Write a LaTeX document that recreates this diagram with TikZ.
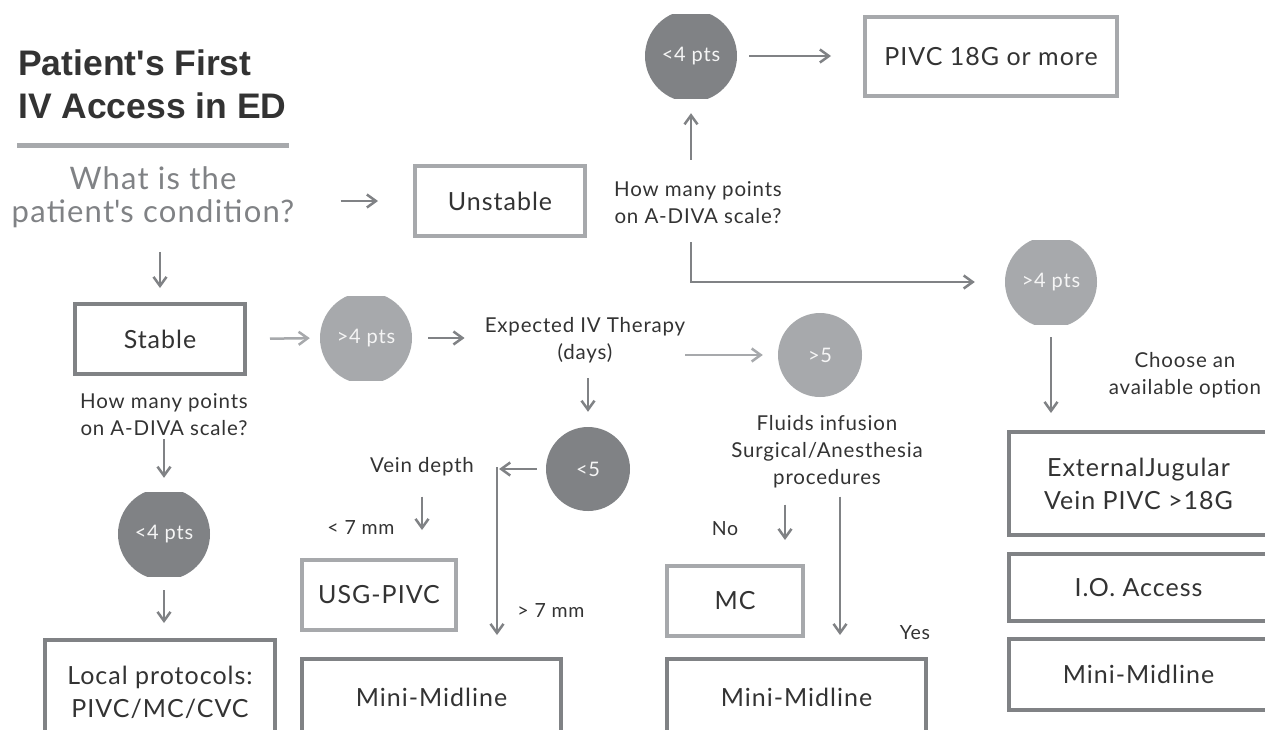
\documentclass[tikz,border=0pt]{standalone}
\usepackage{fontspec}
\setmainfont{Lato}[LetterSpace=4]
\newfontfamily\titlefont{Liberation Sans}
\usetikzlibrary{arrows.meta}
\definecolor{darkGray}{HTML}{808285}
\definecolor{lightGray}{HTML}{A7A9AC}
\definecolor{textGray}{HTML}{333333}

\begin{document}
\begin{tikzpicture}[x = 1pt, y = -1pt]
	\tikzstyle{titleStyle} = [align = left, text = textGray, inner sep = 0pt, font = \titlefont\bfseries\fontsize{35.5}{43}\selectfont]
	\tikzstyle{questionStyle} = [align = center, text = darkGray, inner sep = 0pt, font = \fontsize{31}{33}\selectfont]
	\tikzstyle{plainStyle} = [align = center, text = textGray, inner sep = 0pt, font = \fontsize{20.5}{27}\selectfont]
	\tikzstyle{smallStyle} = [text = textGray, inner sep = 0pt, font = \fontsize{19.5}{22}\selectfont]
	\tikzstyle{lightBoxStyle} = [draw = lightGray, line width = 4pt, align = center, text = textGray, inner sep = 0pt, font = \fontsize{25}{33}\selectfont]
	\tikzstyle{darkBoxStyle} = [lightBoxStyle, draw = darkGray]
	\tikzstyle{darkPtsStyle} = [minimum width = 92pt, minimum height = 84pt, inner sep = 0pt, text = white!92!darkGray, font = \fontsize{20}{22}\selectfont, path picture = {\fill[darkGray] (path picture bounding box.center) circle (46pt);}]
	\tikzstyle{lightPtsStyle} = [darkPtsStyle, path picture = {\fill[lightGray] (path picture bounding box.center) circle (46pt);}]
	\tikzstyle{darkRoundStyle} = [circle, fill = darkGray, minimum size = 84pt, inner sep = 0pt, text = white!92!darkGray, font = \fontsize{20}{22}\selectfont]
	\tikzstyle{lightRoundStyle} = [darkRoundStyle, fill = lightGray]
	\tikzstyle{arrowStyle} = [draw = darkGray, line width = 2.5pt, -{Straight Barb[length = 9pt, width = 13pt]}]
	\tikzstyle{lightArrowStyle} = [arrowStyle, draw = lightGray]

	\fill[white] (0,0) rectangle (1265,729);
	\useasboundingbox (0,0) rectangle (1265,729);
	\clip (0,0) rectangle (1265,729);

	% heading and question
	\node[titleStyle, anchor = north west] (title) at (18,50) {Patient's First\\IV Access in ED};
	\draw[lightGray, line width = 5pt] (17,145) -- (289,145);
	\node[questionStyle] (question) at (153,197) {What is the\\patient\textquotesingle s condition?};

	% unstable branch
	\node[lightBoxStyle, minimum width = 170pt, minimum height = 70pt] (unstable) at (500,201) {Unstable};
	\node[plainStyle] (unstableAsk) at (698,203) {How many points\\on A-DIVA scale?};
	\node[darkPtsStyle] (lowTop) at (691,56) {<4 pts};
	\node[lightBoxStyle, minimum width = 252pt, minimum height = 79pt] (pivc) at (991,56.5) {PIVC 18G or more};
	\node[lightPtsStyle] (highRight) at (1051,282) {>4 pts};
	\node[plainStyle] (choose) at (1185,375) {Choose an\\available option};
	\node[darkBoxStyle, minimum width = 259pt, minimum height = 103pt] (jugular) at (1138.5,483.5) {ExternalJugular\\Vein PIVC >18G};
	\node[darkBoxStyle, minimum width = 259pt, minimum height = 67pt] (io) at (1138.5,587.5) {I.O. Access};
	\node[darkBoxStyle, minimum width = 259pt, minimum height = 71pt] (midRight) at (1138.5,674.5) {Mini-Midline};

	% stable branch
	\node[darkBoxStyle, minimum width = 170pt, minimum height = 70pt] (stable) at (160,339) {Stable};
	\node[plainStyle] (stableAsk) at (164,415) {How many points\\on A-DIVA scale?};
	\node[darkPtsStyle] (lowLeft) at (164,534) {<4 pts};
	\node[darkBoxStyle, minimum width = 230pt, minimum height = 104pt] (local) at (160,692) {Local protocols:\\PIVC/MC/CVC};
	\node[lightPtsStyle] (highMid) at (366,338) {>4 pts};
	\node[plainStyle] (therapy) at (585,340) {Expected IV Therapy\\(days)};
	\node[lightRoundStyle] (longer) at (820,355) {>5};
	\node[darkRoundStyle] (shorter) at (588,469) {<5};
	\node[plainStyle] (vein) at (422,467) {Vein depth};
	\node[smallStyle] (thin) at (361,528) {< 7 mm};
	\node[smallStyle] (thick) at (551,610) {> 7 mm};
	\node[lightBoxStyle, minimum width = 154pt, minimum height = 70pt] (usg) at (379,595) {USG-PIVC};
	\node[darkBoxStyle, minimum width = 259pt, minimum height = 76pt] (midLeft) at (431.5,697) {Mini-Midline};
	\node[plainStyle] (fluids) at (827,452) {Fluids infusion\\Surgical/Anesthesia\\procedures};
	\node[smallStyle] (no) at (725,529) {No};
	\node[smallStyle] (yes) at (915,633) {Yes};
	\node[lightBoxStyle, minimum width = 136pt, minimum height = 70pt] (mc) at (735,601) {MC};
	\node[darkBoxStyle, minimum width = 259pt, minimum height = 76pt] (midCenter) at (796.5,697) {Mini-Midline};

	% connectors
	\draw[arrowStyle, shorten <= 46pt, shorten >= 35pt] (unstable.west -| question.east) -- (unstable.west);
	\draw[arrowStyle, shorten <= 24pt, shorten >= 14pt] (question.south -| stable.north) -- (stable.north);
	\draw[lightArrowStyle, shorten <= 23pt, shorten >= 10pt] (stable.east) -- (highMid.west);
	\draw[arrowStyle, shorten <= 16pt, shorten >= 20pt] (highMid.east) -- (highMid.east -| therapy.west);
	\draw[lightArrowStyle, shorten <= 0pt, shorten >= 15pt] (longer.west -| therapy.east) -- (longer.west);
	\draw[arrowStyle, shorten <= 15pt, shorten >= 15pt] (therapy.south -| shorter.north) -- (shorter.north);
	\draw[arrowStyle, shorten <= 9pt, shorten >= 25pt] (shorter.west) -- (shorter.west -| vein.east);
	\draw[arrowStyle, shorten <= 20pt, shorten >= 28pt] (vein.south) -- (vein.south |- usg.north);
	\draw[arrowStyle, shorten >= 22pt] ([xshift = 75pt]vein.center) -- ([xshift = 75pt]vein.center |- midLeft.north);
	\draw[arrowStyle, shorten <= 22pt, shorten >= 15pt] (unstableAsk.north -| lowTop.south) -- (lowTop.south);
	\draw[arrowStyle, shorten <= 12pt, shorten >= 32pt] (lowTop.east) -- (lowTop.east -| pivc.west);
	\draw[arrowStyle, shorten <= 18pt, shorten >= 30pt] (unstableAsk.south -| lowTop.south) |- (highRight.west);
	\draw[arrowStyle, shorten <= 13pt, shorten >= 17pt] (highRight.south) -- (highRight.south |- jugular.north);
	\draw[arrowStyle, shorten <= 3pt, shorten >= 14pt] (stableAsk.south -| lowLeft.north) -- (lowLeft.north);
	\draw[arrowStyle, shorten <= 14pt, shorten >= 15pt] (lowLeft.south) -- (lowLeft.south |- local.north);
	\draw[arrowStyle, shorten <= 16pt, shorten >= 24pt] ([xshift = -42pt]fluids.south) -- ([xshift = -42pt]fluids.south |- mc.north);
	\draw[arrowStyle, shorten <= 8pt, shorten >= 22pt] ([xshift = 13pt]fluids.south) -- ([xshift = 13pt]fluids.south |- midCenter.north);
\end{tikzpicture}
\end{document}
